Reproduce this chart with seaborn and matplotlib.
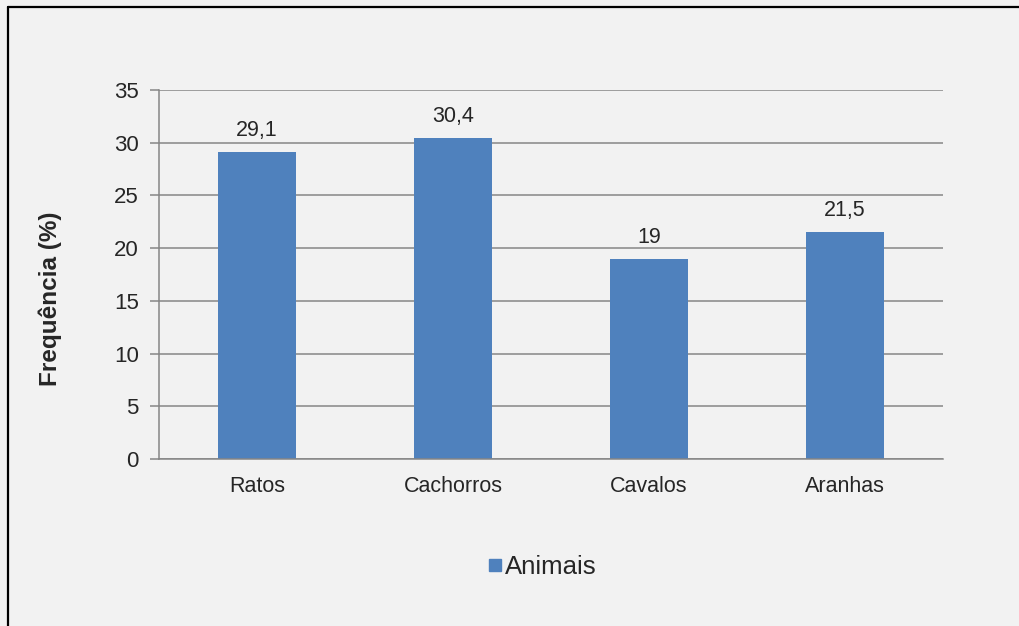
import matplotlib
matplotlib.use("Agg")
import matplotlib.pyplot as plt
from matplotlib.lines import Line2D
import seaborn as sns
import pandas as pd

# Data
categorias = ["Ratos", "Cachorros", "Cavalos", "Aranhas"]
frequencias = [29.1, 30.4, 19, 21.5]
serie = "Animais"
yticks = [0, 5, 10, 15, 20, 25, 30, 35]

df = pd.DataFrame({"categoria": categorias, "frequencia": frequencias})

sns.set_theme(style="white")
plt.rcParams["font.family"] = ["Liberation Sans", "DejaVu Sans"]

bg = "#F2F2F2"
bar_color = "#4F81BD"
grid_color = "#868686"
text_color = "#262626"

fig = plt.figure(figsize=(10.2, 6.26), dpi=100, facecolor=bg)
ax = fig.add_axes([0.1559, 0.2668, 0.7686, 0.5895])
ax.set_facecolor(bg)

sns.barplot(data=df, x="categoria", y="frequencia", color=bar_color,
            width=0.4, saturation=1, ax=ax, order=categorias, linewidth=0)

ax.set_ylim(0, 35)
ax.set_xlim(-0.5, len(categorias) - 0.5)
ax.set_yticks(yticks)
ax.set_yticklabels([str(t) for t in yticks], fontsize=16, color=text_color)
ax.set_xticks(range(len(categorias)))
ax.set_xticklabels(categorias, fontsize=15.5, color=text_color)

ax.yaxis.grid(True, color=grid_color, linewidth=1.1)
ax.set_axisbelow(True)
ax.tick_params(axis="y", length=6.5, width=1.1, color=grid_color, pad=8, left=True)
ax.tick_params(axis="x", length=0, pad=12)

for side in ["top", "right"]:
    ax.spines[side].set_visible(False)
ax.spines["left"].set_color(grid_color)
ax.spines["left"].set_linewidth(1.1)
ax.spines["bottom"].set_color(grid_color)
ax.spines["bottom"].set_linewidth(1.1)

ax.set_xlabel("")
ax.set_ylabel("Frequência (%)", fontsize=17.5, fontweight="bold",
              color=text_color)
ax.yaxis.set_label_coords(-0.124, 0.434)

# Value labels above bars, decimal comma
labels = [f"{v:g}".replace(".", ",") for v in frequencias]
ax.bar_label(ax.containers[0], labels=labels, padding=8, fontsize=15.5,
             color=text_color)

# Legend below the chart
handle = Line2D([], [], marker="s", linestyle="", color=bar_color,
                markersize=8.5)
fig.legend([handle], [serie], loc="center", bbox_to_anchor=(0.531, 0.094),
           frameon=False, fontsize=18.5, handletextpad=0.05, handlelength=0.7,
           labelcolor=text_color)

# Outer frame (top and left edges)
fig.add_artist(Line2D([0.0078, 1.0], [0.9885, 0.9885],
                      transform=fig.transFigure, color="black", linewidth=1.6))
fig.add_artist(Line2D([0.0078, 0.0078], [0.0, 0.9885],
                      transform=fig.transFigure, color="black", linewidth=1.6))

fig.savefig("out.png", dpi=100, facecolor=bg)
